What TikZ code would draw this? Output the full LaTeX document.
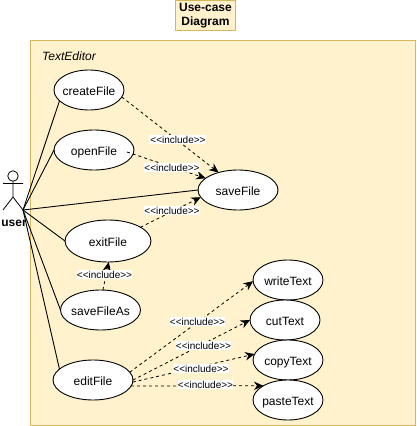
\documentclass[tikz,border=0pt]{standalone}
\usepackage{fontspec}
\setmainfont{Liberation Sans}
\usetikzlibrary{shapes.geometric,arrows.meta}
\definecolor{panelfill}{HTML}{FFF2CC}
\definecolor{panelline}{HTML}{D6B656}
\newcommand{\uclabel}[1]{\makebox[0pt]{\rule[-3pt]{0pt}{16pt}#1}}
\newcommand{\incltext}{{<}{<}include{>}{>}}
\tikzset{
  usecase/.style={draw=black,fill=white,ellipse,line width=0.9pt,inner sep=0pt,outer sep=0pt,
    minimum width=#1,minimum height=40pt,font=\fontsize{12}{14}\selectfont},
  usecase/.default=80pt,
  panel/.style={draw=panelline,fill=panelfill,line width=0.9pt},
  assoc/.style={draw=black,line width=0.9pt},
  incl/.style={draw=black,line width=0.8pt,dash pattern=on 3pt off 3pt,-{Stealth[length=9.5pt,width=8.5pt]}},
  incllabel/.style={fill=white,inner xsep=0.3pt,inner ysep=0.8pt,font=\fontsize{10}{11}\selectfont},
}
\begin{document}
\begin{tikzpicture}[x=1pt,y=-1pt]
\useasboundingbox (0,0) rectangle (416,426);
% panels
\node[panel,minimum width=384.5pt,minimum height=384.5pt,inner sep=0pt,outer sep=0pt] (frame) at (223,232.8) {};
\node[panel,minimum width=59.5pt,minimum height=30pt,inner sep=0pt,outer sep=0pt,align=center,
  font=\fontsize{12}{14}\selectfont\bfseries] (title) at (205.5,15.3) {Use-case\\Diagram};
\node[font=\fontsize{12}{14}\selectfont\itshape,anchor=west,inner sep=0pt] (system) at (42,56) {TextEditor};
% use cases
\node[usecase=70pt] (createFile) at (89,90) {\uclabel{createFile}};
\node[usecase] (openFile) at (94,150) {\uclabel{openFile}};
\node[usecase] (saveFile) at (238,190) {\uclabel{saveFile}};
\node[usecase=86pt,minimum height=42pt] (exitFile) at (108,241) {\uclabel{exitFile}};
\node[usecase] (saveFileAs) at (100.5,310) {\uclabel{saveFileAs}};
\node[usecase] (editFile) at (93,380) {\uclabel{editFile}};
\node[usecase=70pt] (writeText) at (288,280) {\uclabel{writeText}};
\node[usecase=70pt] (cutText) at (285,320) {\uclabel{cutText}};
\node[usecase=70pt] (copyText) at (288,360) {\uclabel{copyText}};
\node[usecase=70pt] (pasteText) at (288,400) {\uclabel{pasteText}};
% actor
\node[draw=black,fill=white,circle,line width=0.8pt,minimum size=10.5pt,inner sep=0pt,outer sep=0pt] (head) at (13,176) {};
\coordinate (hip) at (13,197);
\coordinate (armL) at (3,183.5);
\coordinate (armR) at (23,183.5);
\coordinate (footL) at (3,210);
\coordinate (footR) at (23,210);
\draw[assoc,line width=0.8pt] (head.south) -- (hip) (armL) -- (armR) (footL) -- (hip) -- (footR);
\node[font=\fontsize{12}{14}\selectfont\bfseries,inner sep=0pt] (user) at (14,223.5) {user};
% associations
\draw[assoc] (footR) -- (createFile.200);
\draw[assoc] (footR) -- (openFile.180);
\draw[assoc] (footR) -- (saveFile.180);
\draw[assoc] (footR) -- (exitFile.180);
\draw[assoc] (footR) -- (saveFileAs.180);
\draw[assoc] (footR) -- (editFile.162);
% includes
\draw[incl] (createFile.-12) -- (saveFile.138);
\draw[incl] ([shift={(-7,2)}]openFile.east) -- (saveFile.160);
\draw[incl] (exitFile.23) -- (saveFile.191);
\draw[incl] (saveFileAs.83) -- (exitFile.272);
\draw[incl] (editFile.12) -- (writeText.182);
\draw[incl] (editFile.0) -- (cutText.180);
\draw[incl] (editFile.-3) -- (copyText.170);
\draw[incl] (editFile.-9) -- (pasteText.150);
% labels
\node[incllabel] (l1) at (178,139.5) {\incltext};
\node[incllabel] (l2) at (172,167.5) {\incltext};
\node[incllabel] (l3) at (172,210.5) {\incltext};
\node[incllabel] (l4) at (104.5,274.5) {\incltext};
\node[incllabel] (l5) at (197.5,321.5) {\incltext};
\node[incllabel] (l6) at (203.5,345.5) {\incltext};
\node[incllabel] (l7) at (201,368.5) {\incltext};
\node[incllabel] (l8) at (205.5,384.5) {\incltext};
\end{tikzpicture}
\end{document}
